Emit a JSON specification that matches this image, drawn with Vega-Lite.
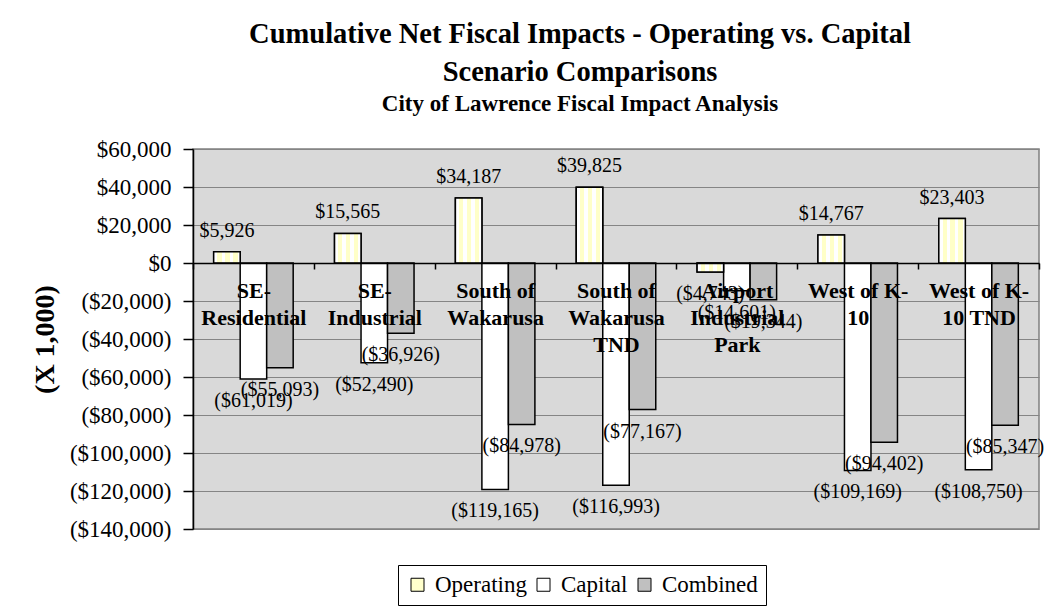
{
  "$schema": "https://vega.github.io/schema/vega-lite/v6.json",
  "width": 846,
  "height": 380,
  "autosize": {"type": "none"},
  "padding": {"left": 193, "top": 149, "right": 14, "bottom": 78},
  "background": "white",
  "title": {
    "text": ["Cumulative Net Fiscal Impacts - Operating vs. Capital", "Scenario Comparisons"],
    "subtitle": "City of Lawrence Fiscal Impact Analysis",
    "font": "Liberation Serif",
    "fontSize": 28.5,
    "fontWeight": "bold",
    "lineHeight": 38,
    "color": "black",
    "subtitleFont": "Liberation Serif",
    "subtitleFontSize": 23,
    "subtitleFontWeight": "bold",
    "subtitleColor": "black",
    "subtitlePadding": 7,
    "anchor": "middle",
    "frame": "group",
    "dx": -36,
    "offset": 22
  },
  "data": {
    "values": [
      {"scenario": "SE-Residential", "series": "Operating", "value": 5926},
      {"scenario": "SE-Residential", "series": "Capital", "value": -61019},
      {"scenario": "SE-Residential", "series": "Combined", "value": -55093},
      {"scenario": "SE-Industrial", "series": "Operating", "value": 15565},
      {"scenario": "SE-Industrial", "series": "Capital", "value": -52490},
      {"scenario": "SE-Industrial", "series": "Combined", "value": -36926},
      {"scenario": "South of Wakarusa", "series": "Operating", "value": 34187},
      {"scenario": "South of Wakarusa", "series": "Capital", "value": -119165},
      {"scenario": "South of Wakarusa", "series": "Combined", "value": -84978},
      {"scenario": "South of Wakarusa TND", "series": "Operating", "value": 39825},
      {"scenario": "South of Wakarusa TND", "series": "Capital", "value": -116993},
      {"scenario": "South of Wakarusa TND", "series": "Combined", "value": -77167},
      {"scenario": "Airport Industrial Park", "series": "Operating", "value": -4743},
      {"scenario": "Airport Industrial Park", "series": "Capital", "value": -14601},
      {"scenario": "Airport Industrial Park", "series": "Combined", "value": -19344},
      {"scenario": "West of K-10", "series": "Operating", "value": 14767},
      {"scenario": "West of K-10", "series": "Capital", "value": -109169},
      {"scenario": "West of K-10", "series": "Combined", "value": -94402},
      {"scenario": "West of K-10 TND", "series": "Operating", "value": 23403},
      {"scenario": "West of K-10 TND", "series": "Capital", "value": -108750},
      {"scenario": "West of K-10 TND", "series": "Combined", "value": -85347}
    ]
  },
  "encoding": {
    "x": {
      "field": "scenario",
      "type": "nominal",
      "sort": null,
      "scale": {
        "domain": ["SE-Residential", "SE-Industrial", "South of Wakarusa", "South of Wakarusa TND", "Airport Industrial Park", "West of K-10", "West of K-10 TND"],
        "paddingInner": 0,
        "paddingOuter": 0
      },
      "axis": {
        "title": null,
        "offset": -266,
        "zindex": 1,
        "domainColor": "black",
        "domainWidth": 1.5,
        "tickColor": "black",
        "tickSize": 6,
        "tickWidth": 1.5,
        "tickBand": "extent",
        "labelAngle": 0,
        "labelFont": "Liberation Serif",
        "labelFontWeight": "bold",
        "labelFontSize": 22,
        "labelColor": "black",
        "labelPadding": 11,
        "labelLineHeight": 27,
        "labelBaseline": "top",
        "labelOverlap": false,
        "labelLimit": 300,
        "labelExpr": "datum.value == 'SE-Residential' ? ['SE-', 'Residential'] : datum.value == 'SE-Industrial' ? ['SE-', 'Industrial'] : datum.value == 'South of Wakarusa' ? ['South of', 'Wakarusa'] : datum.value == 'South of Wakarusa TND' ? ['South of', 'Wakarusa', 'TND'] : datum.value == 'Airport Industrial Park' ? ['Airport', 'Industrial', 'Park'] : datum.value == 'West of K-10' ? ['West of K-', '10'] : datum.value == 'West of K-10 TND' ? ['West of K-', '10 TND'] : ''"
      }
    },
    "xOffset": {
      "field": "series",
      "type": "nominal",
      "sort": null,
      "scale": {"domain": ["Operating", "Capital", "Combined"], "paddingInner": 0, "paddingOuter": 0.78}
    },
    "y": {
      "field": "value",
      "type": "quantitative",
      "scale": {"domain": [-140000, 60000], "nice": false, "zero": false},
      "axis": {
        "title": "(X 1,000)",
        "titleFont": "Liberation Serif",
        "titleFontSize": 28,
        "titleFontWeight": "bold",
        "titleColor": "black",
        "titlePadding": 10,
        "values": [-140000, -120000, -100000, -80000, -60000, -40000, -20000, 0, 20000, 40000, 60000],
        "format": "($,.0f",
        "labelFont": "Liberation Serif",
        "labelFontSize": 23,
        "labelColor": "black",
        "labelPadding": 12,
        "tickSize": 10,
        "tickColor": "black",
        "tickWidth": 1.5,
        "domainColor": "black",
        "domainWidth": 1.5,
        "grid": true,
        "gridColor": "#858585",
        "gridWidth": 1
      }
    }
  },
  "layer": [
    {
      "mark": {"type": "bar", "stroke": "black", "strokeWidth": 1.5},
      "encoding": {
        "color": {
          "field": "series",
          "type": "nominal",
          "scale": {"domain": ["Operating", "Capital", "Combined"], "range": ["#ffffcc", "#ffffff", "#c0c0c0"]},
          "legend": {
            "title": null,
            "orient": "none",
            "legendX": 205,
            "legendY": 416,
            "direction": "horizontal",
            "strokeColor": "black",
            "fillColor": "white",
            "padding": 8,
            "symbolType": "square",
            "symbolSize": 169,
            "symbolStrokeColor": "black",
            "symbolStrokeWidth": 1,
            "labelFont": "Liberation Serif",
            "labelFontSize": 23,
            "labelColor": "black",
            "labelOffset": 6,
            "columnPadding": 5,
            "labelLimit": 300
          }
        }
      }
    },
    {
      "transform": [{"filter": "datum.series === 'Operating'"}],
      "mark": {
        "type": "bar",
        "stroke": "black",
        "strokeWidth": 1.5,
        "fill": {
          "gradient": "linear",
          "x1": 0, "x2": 1, "y1": 0, "y2": 0,
          "stops": [
            {"offset": 0, "color": "#ffffff"},
            {"offset": 0.14, "color": "#ffffff"},
            {"offset": 0.14, "color": "#ffffc8"},
            {"offset": 0.3, "color": "#ffffc8"},
            {"offset": 0.3, "color": "#ffffff"},
            {"offset": 0.44, "color": "#ffffff"},
            {"offset": 0.44, "color": "#ffffc8"},
            {"offset": 0.6, "color": "#ffffc8"},
            {"offset": 0.6, "color": "#ffffff"},
            {"offset": 0.74, "color": "#ffffff"},
            {"offset": 0.74, "color": "#ffffc8"},
            {"offset": 0.9, "color": "#ffffc8"},
            {"offset": 0.9, "color": "#ffffff"},
            {"offset": 1, "color": "#ffffff"}
          ]
        }
      },
      "encoding": {}
    },
    {
      "transform": [{"filter": "datum.value >= 0"}],
      "mark": {"type": "text", "dy": -21, "baseline": "middle", "font": "Liberation Serif", "fontSize": 20, "color": "black"},
      "encoding": {"text": {"field": "value", "type": "quantitative", "format": "($,.0f"}}
    },
    {
      "transform": [{"filter": "datum.value < 0"}],
      "mark": {"type": "text", "dy": 22, "baseline": "middle", "font": "Liberation Serif", "fontSize": 20, "color": "black"},
      "encoding": {"text": {"field": "value", "type": "quantitative", "format": "($,.0f"}}
    }
  ],
  "config": {
    "font": "Liberation Serif",
    "view": {"fill": "#d9d9d9", "stroke": "#808080", "strokeWidth": 1.5}
  }
}
